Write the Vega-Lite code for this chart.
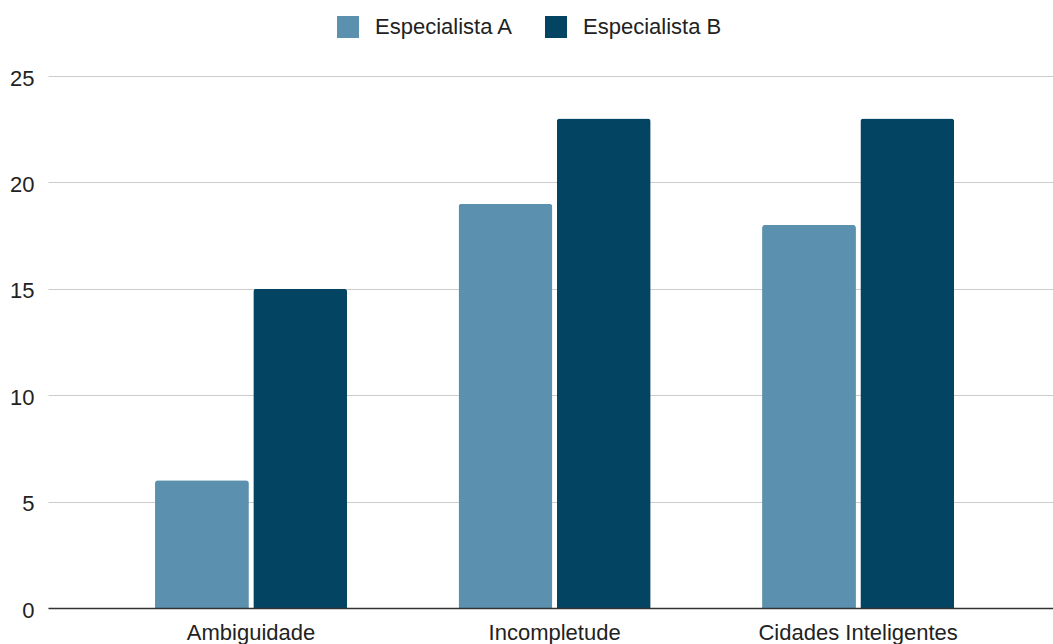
{
  "$schema": "https://vega.github.io/schema/vega-lite/v6.json",
  "width": 1005,
  "height": 532,
  "autosize": "none",
  "padding": {"left": 48, "top": 76, "right": 0, "bottom": 36},
  "config": {"view": {"stroke": null}, "font": "Liberation Sans"},
  "data": {
    "values": [
      {"categoria": "Ambiguidade", "especialista": "Especialista A", "valor": 6},
      {"categoria": "Ambiguidade", "especialista": "Especialista B", "valor": 15},
      {"categoria": "Incompletude", "especialista": "Especialista A", "valor": 19},
      {"categoria": "Incompletude", "especialista": "Especialista B", "valor": 23},
      {"categoria": "Cidades Inteligentes", "especialista": "Especialista A", "valor": 18},
      {"categoria": "Cidades Inteligentes", "especialista": "Especialista B", "valor": 23}
    ]
  },
  "mark": {"type": "bar", "cornerRadiusTopLeft": 3, "cornerRadiusTopRight": 3},
  "encoding": {
    "x": {
      "field": "categoria",
      "type": "nominal",
      "sort": ["Ambiguidade", "Incompletude", "Cidades Inteligentes"],
      "scale": {"paddingInner": 0.367, "paddingOuter": 0.339, "align": 0.52},
      "axis": {
        "title": null,
        "labelAngle": 0,
        "labelFontSize": 22,
        "labelColor": "#222222",
        "labelPadding": 14,
        "labelLimit": 0,
        "ticks": false,
        "domainColor": "#333333",
        "domainWidth": 1.5,
        "zindex": 1
      }
    },
    "xOffset": {
      "field": "especialista",
      "type": "nominal",
      "scale": {"paddingInner": 0.045}
    },
    "y": {
      "field": "valor",
      "type": "quantitative",
      "scale": {"domain": [0, 25], "nice": false},
      "axis": {
        "title": null,
        "values": [0, 5, 10, 15, 20, 25],
        "ticks": false,
        "domain": false,
        "gridColor": "#cccccc",
        "gridWidth": 1,
        "labelFontSize": 22,
        "labelColor": "#222222",
        "labelPadding": 14,
        "labelOffset": 2
      }
    },
    "color": {
      "field": "especialista",
      "type": "nominal",
      "scale": {"range": ["#5b91ae", "#034462"]},
      "legend": {
        "title": null,
        "orient": "none",
        "direction": "horizontal",
        "legendX": 289,
        "legendY": -60,
        "symbolType": "square",
        "symbolSize": 484,
        "symbolStrokeWidth": 0,
        "symbolOpacity": 1,
        "labelFontSize": 22,
        "labelColor": "#222222",
        "labelOffset": 16,
        "columnPadding": 31
      }
    }
  }
}
